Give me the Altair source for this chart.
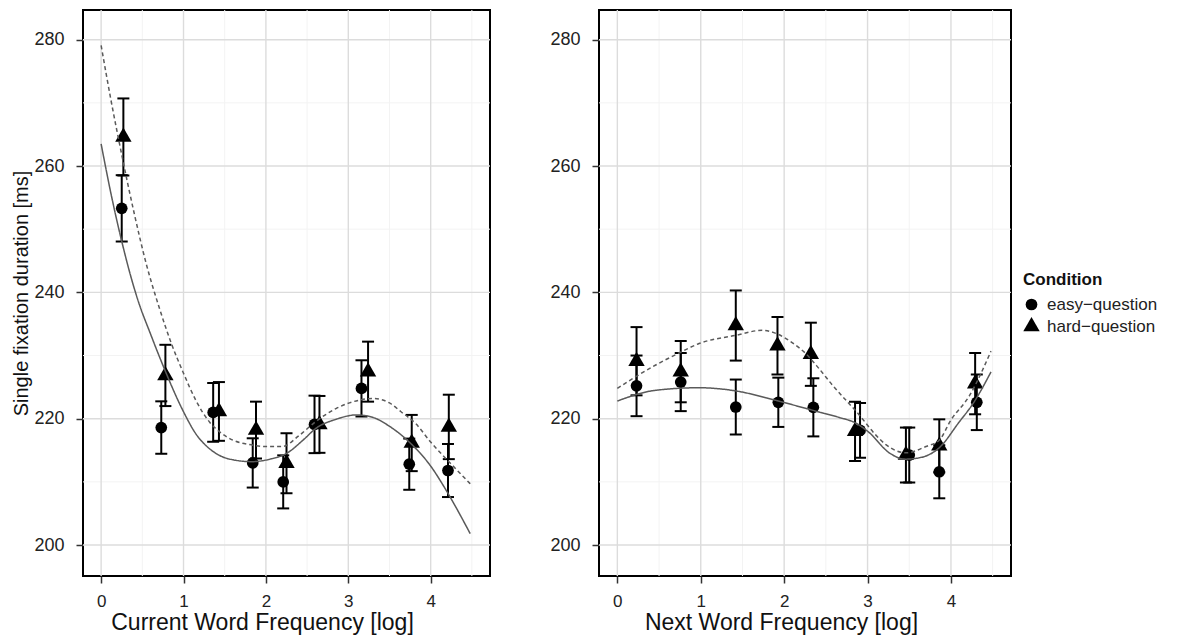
import altair as alt
import pandas as pd

FONT = "Liberation Sans"
conditions = ["easy\u2212question", "hard\u2212question"]

# ---- Left panel: current word frequency (binned means +/- CI) ----
cur_easy_x = [0.25, 0.73, 1.36, 1.84, 2.21, 2.59, 3.16, 3.74, 4.21]
cur_easy_y = [253.3, 218.6, 221.0, 213.0, 210.0, 219.1, 224.8, 212.8, 211.8]
cur_easy_ci = [5.25, 4.15, 4.65, 3.9, 4.2, 4.55, 4.45, 4.05, 4.2]
cur_hard_x = [0.27, 0.78, 1.43, 1.88, 2.25, 2.65, 3.24, 3.77, 4.22]
cur_hard_y = [264.6, 226.85, 221.15, 218.2, 212.95, 219.1, 227.45, 216.15, 218.7]
cur_hard_ci = [6.1, 4.85, 4.65, 4.5, 4.75, 4.5, 4.75, 4.45, 5.1]

# smooth fits
cur_easy_fit_x = [0, 0.12, 0.25, 0.376, 0.456, 0.6, 0.758, 1.0, 1.15, 1.32, 1.45, 1.6, 1.83,
                  2.05, 2.25, 2.45, 2.61, 2.85, 3.1, 3.3, 3.5, 3.74, 4.0, 4.2, 4.48]
cur_easy_fit_y = [263.5, 255.6, 248.1, 241.8, 238.4, 233.4, 228.2, 221.1, 217.6, 215.2, 214.1, 213.5, 213.2,
                  213.6, 214.5, 216.6, 218.5, 219.9, 220.6, 220.2, 218.8, 216.3, 212.5, 208.4, 201.8]
cur_hard_fit_x = [0, 0.12, 0.25, 0.4, 0.55, 0.7, 0.85, 1.0, 1.15, 1.32, 1.45, 1.6, 1.8, 2.0, 2.2,
                  2.4, 2.6, 2.85, 3.12, 3.3, 3.5, 3.64, 3.82, 4.0, 4.25, 4.48]
cur_hard_fit_y = [279.1, 270.4, 261.8, 252.6, 244.4, 237.8, 232.0, 227.2, 222.9, 219.4, 217.8, 216.6,
                  215.9, 215.6, 215.6, 217.3, 219.5, 221.6, 222.9, 223.2, 222.5, 221.1, 219.2, 216.3,
                  212.8, 209.7]

# ---- Right panel: next word frequency ----
next_easy_x = [0.23, 0.76, 1.42, 1.93, 2.35, 2.91, 3.50, 3.86, 4.31]
next_easy_y = [225.2, 225.8, 221.85, 222.6, 221.8, 218.15, 214.25, 211.6, 222.6]
next_easy_ci = [4.8, 4.6, 4.35, 3.9, 4.6, 4.35, 4.35, 4.2, 4.4]
next_hard_x = [0.23, 0.76, 1.42, 1.92, 2.32, 2.85, 3.46, 3.86, 4.29]
next_hard_y = [229.1, 227.45, 234.75, 231.55, 230.2, 218.0, 214.25, 215.7, 225.55]
next_hard_ci = [5.4, 4.85, 5.55, 4.55, 5.0, 4.7, 4.35, 4.2, 4.85]

next_easy_fit_x = [0, 0.46, 0.98, 1.42, 1.9, 2.38, 2.66, 2.86, 3.02, 3.26, 3.45, 3.65,
                   3.86, 4.1, 4.26, 4.48]
next_easy_fit_y = [222.8, 224.5, 224.9, 224.4, 222.9, 221.2, 220.2, 219.3, 217.8, 214.6, 213.6, 213.9,
                   215.4, 219.5, 222.3, 227.4]
next_hard_fit_x = [0, 0.46, 0.74, 0.98, 1.42, 1.74, 1.92, 2.1, 2.26, 2.42, 2.58, 2.9, 3.1,
                   3.22, 3.46, 3.7, 3.86, 4.0, 4.22, 4.48]
next_hard_fit_y = [224.8, 228.5, 230.4, 231.9, 233.2, 234.0, 233.4, 232.0, 230.3, 227.9, 225.3,
                   220.6, 217.4, 215.9, 214.6, 215.6, 216.6, 219.8, 223.6, 230.7]

# axis breaks
x_major = [0, 1, 2, 3, 4]
x_minor = [0.5, 1.5, 2.5, 3.5, 4.5]
y_major = [200, 220, 240, 260, 280]
y_minor = [210, 230, 250, 270]

# triangle centred on its centroid (as R's pch 17), a bit larger than the circle
TRIANGLE = "M0,-1.62L1.40,0.81L-1.40,0.81Z"


def points_frame(ex, ey, eci, hx, hy, hci):
    rows = []
    for c, xs, ys, cis in [(conditions[0], ex, ey, eci), (conditions[1], hx, hy, hci)]:
        for x, y, ci in zip(xs, ys, cis):
            rows.append({"x": x, "y": y, "lo": y - ci, "hi": y + ci, "cond": c})
    return pd.DataFrame(rows)


def fit_frame(ex, ey, hx, hy):
    rows = []
    for c, xs, ys in [(conditions[0], ex, ey), (conditions[1], hx, hy)]:
        for x, y in zip(xs, ys):
            rows.append({"x": x, "y": y, "fitcond": c})
    return pd.DataFrame(rows)


def panel(pts, fit, xtitle, ytitle, title_x, width):
    xs = alt.Scale(domain=[-0.22, 4.72], nice=False, zero=False)
    ys = alt.Scale(domain=[195.1, 284.7], nice=False, zero=False)
    xaxis = alt.Axis(values=x_major, format="d", grid=False, domain=False,
                     tickSize=7, tickWidth=1.5, tickColor="#333333",
                     labelFontSize=17, labelPadding=10, labelColor="#222222",
                     titleFontSize=23, titleFontWeight="normal", titleColor="#111111",
                     titlePadding=2, titleX=title_x, titleAlign="center")
    yaxis = alt.Axis(values=y_major, format="d", grid=False, domain=False,
                     tickSize=7, tickWidth=1.5, tickColor="#333333",
                     labelFontSize=18, labelPadding=12, labelColor="#222222",
                     titleFontSize=20, titleFontWeight="normal", titleColor="#111111",
                     titlePadding=2)

    def X(field):
        return alt.X(field, type="quantitative", scale=xs, axis=xaxis, title=xtitle)

    def Y(field):
        if ytitle:
            return alt.Y(field, type="quantitative", scale=ys, axis=yaxis, title=ytitle)
        return alt.Y(field, type="quantitative", scale=ys, axis=yaxis, title=None)

    minor_v = alt.Chart(pd.DataFrame({"v": x_minor})).mark_rule(
        color="#f3f3f3", strokeWidth=1).encode(x=X("v"))
    minor_h = alt.Chart(pd.DataFrame({"v": y_minor})).mark_rule(
        color="#f3f3f3", strokeWidth=1).encode(y=Y("v"))
    major_v = alt.Chart(pd.DataFrame({"v": x_major})).mark_rule(
        color="#dcdcdc", strokeWidth=1.4).encode(x=X("v"))
    major_h = alt.Chart(pd.DataFrame({"v": y_major})).mark_rule(
        color="#dcdcdc", strokeWidth=1.4).encode(y=Y("v"))

    base = alt.Chart(pts)
    bars = base.mark_rule(color="black", strokeWidth=2).encode(
        x=X("x"), y=Y("lo"), y2="hi", detail="cond:N")
    caps = base.transform_fold(["lo", "hi"], as_=["k", "v"]).mark_tick(
        orient="horizontal", size=12, thickness=2, color="black", opacity=1).encode(
        x=X("x"), y=Y("v:Q"), detail="cond:N")
    points = base.mark_point(filled=True, opacity=1, color="black", strokeWidth=0, size=137).encode(
        x=X("x"), y=Y("y"),
        shape=alt.Shape("cond:N", scale=alt.Scale(domain=conditions, range=["circle", TRIANGLE]),
                        legend=alt.Legend(title="Condition", orient="none",
                                          legendX=940, legendY=262,
                                          titleFontSize=17, titleFontWeight="bold",
                                          titleColor="#111111", titlePadding=7,
                                          labelFontSize=17, labelColor="#222222",
                                          labelOffset=7, rowPadding=4,
                                          symbolSize=137, symbolFillColor="black",
                                          symbolStrokeWidth=0)))
    lines = alt.Chart(fit).mark_line(color="#5a5a5a", strokeWidth=1.5, interpolate="monotone").encode(
        x=X("x"), y=Y("y"),
        strokeDash=alt.StrokeDash("fitcond:N",
                                  scale=alt.Scale(domain=conditions, range=[[1, 0], [4, 3]]),
                                  legend=None))
    return alt.layer(minor_v, minor_h, major_v, major_h, bars, caps, points, lines).properties(
        width=width, height=566)


left = panel(points_frame(cur_easy_x, cur_easy_y, cur_easy_ci, cur_hard_x, cur_hard_y, cur_hard_ci),
             fit_frame(cur_easy_fit_x, cur_easy_fit_y, cur_hard_fit_x, cur_hard_fit_y),
             "Current Word Frequency [log]", "Single fixation duration [ms]", 179, 407)
right = panel(points_frame(next_easy_x, next_easy_y, next_easy_ci, next_hard_x, next_hard_y, next_hard_ci),
              fit_frame(next_easy_fit_x, next_easy_fit_y, next_hard_fit_x, next_hard_fit_y),
              "Next Word Frequency [log]", None, 182, 412)

chart = alt.hconcat(left, right, spacing=56).resolve_scale(
    shape="shared", strokeDash="shared"
).configure(
    padding={"left": 2, "top": 0, "right": 0, "bottom": 0},
    font=FONT,
    background="white",
).configure_view(stroke="black", strokeWidth=2)

chart.save("out.html", embed_options={"renderer": "svg", "actions": False})
